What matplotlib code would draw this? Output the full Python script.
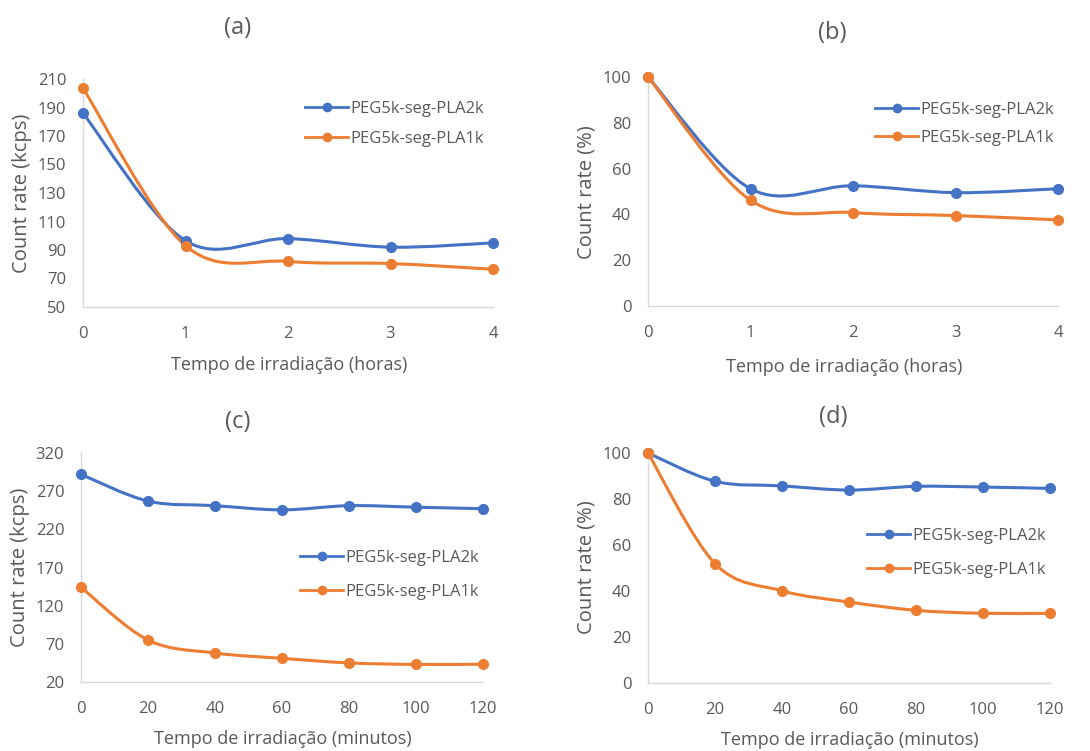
import matplotlib
matplotlib.use('Agg')
import matplotlib.pyplot as plt
from matplotlib.path import Path
from matplotlib.patches import PathPatch
from matplotlib.lines import Line2D
import numpy as np

plt.rcParams['font.family'] = ['Open Sans', 'DejaVu Sans']

# Dados
hours = [0, 1, 2, 3, 4]
minutes = [0, 20, 40, 60, 80, 100, 120]

a_pla2k = [186, 96.5, 98, 92, 95]
a_pla1k = [203.5, 93, 82, 80.5, 76.5]
b_pla2k = [100, 51.2, 52.5, 49.5, 51.2]
b_pla1k = [100, 46.2, 40.8, 39.5, 37.6]
c_pla2k = [292, 257, 251, 245.5, 251, 249, 247]
c_pla1k = [144, 75, 58, 51, 45, 43, 43.3]
d_pla2k = [100, 87.7, 85.7, 83.9, 85.5, 85.2, 84.6]
d_pla1k = [100, 51.9, 40.1, 35.2, 31.6, 30.3, 30.3]

series_labels = ['PEG5k-seg-PLA2k', 'PEG5k-seg-PLA1k']
blue = '#4472C4'
orange = '#ED7D31'
text_col = '#595959'
axis_col = '#D9D9D9'

W, H = 1090, 751


def smooth_path(x, y):
    # curva suavizada tipo Excel (bezier com tensao 1/6)
    pts = np.column_stack([x, y]).astype(float)
    n = len(pts)
    verts = [pts[0]]
    codes = [Path.MOVETO]
    for i in range(n - 1):
        p0 = pts[max(i - 1, 0)]
        p1 = pts[i]
        p2 = pts[i + 1]
        p3 = pts[min(i + 2, n - 1)]
        verts += [p1 + (p2 - p0) / 6, p2 - (p3 - p1) / 6, p2]
        codes += [Path.CURVE4] * 3
    return Path(verts, codes)


def fx(px):
    return px / W


def fy(py):
    return 1 - py / H


panels = [
    dict(rect=(83, 79, 493, 307), x=hours, y1=a_pla2k, y2=a_pla1k,
         yticks=np.arange(50, 211, 20), ylabel='Count rate (kcps)',
         xlabel='Tempo de irradiação (horas)', title='(a)',
         title_pos=(238, 28), xlabel_pos=(289, 365), ylabel_pos=(22, 193),
         leg_pos=(305, 124), leg_space=0.8),
    dict(rect=(648, 77, 1058, 306), x=hours, y1=b_pla2k, y2=b_pla1k,
         yticks=np.arange(0, 101, 20), ylabel='Count rate (%)',
         xlabel='Tempo de irradiação (horas)', title='(b)',
         title_pos=(832, 33), xlabel_pos=(844, 367), ylabel_pos=(587, 192),
         leg_pos=(875, 124), leg_space=0.7),
    dict(rect=(81, 453, 483, 682), x=minutes, y1=c_pla2k, y2=c_pla1k,
         yticks=np.arange(20, 321, 50), ylabel='Count rate (kcps)',
         xlabel='Tempo de irradiação (minutos)', title='(c)',
         title_pos=(238, 422), xlabel_pos=(283, 739), ylabel_pos=(20, 567),
         leg_pos=(300, 575), leg_space=1.05),
    dict(rect=(648, 453, 1050, 683), x=minutes, y1=d_pla2k, y2=d_pla1k,
         yticks=np.arange(0, 101, 20), ylabel='Count rate (%)',
         xlabel='Tempo de irradiação (minutos)', title='(d)',
         title_pos=(833, 417), xlabel_pos=(850, 740), ylabel_pos=(587, 567),
         leg_pos=(867, 553), leg_space=1.05),
]

fig = plt.figure(figsize=(W / 100, H / 100), dpi=100)

for p in panels:
    l, t, r, b = p['rect']
    ax = fig.add_axes([fx(l), fy(b), (r - l) / W, (b - t) / H])
    x = p['x']
    for y, col in [(p['y1'], blue), (p['y2'], orange)]:
        ax.add_patch(PathPatch(smooth_path(x, y), fill=False, edgecolor=col,
                               lw=2.2, capstyle='round', clip_on=False, zorder=2))
        ax.plot(x, y, 'o', color=col, ms=7, clip_on=False, zorder=3)

    ax.set_xlim(x[0], x[-1])
    ax.set_ylim(p['yticks'][0], p['yticks'][-1])
    ax.set_xticks(x)
    ax.set_yticks(p['yticks'])

    for s in ['top', 'right']:
        ax.spines[s].set_visible(False)
    for s in ['left', 'bottom']:
        ax.spines[s].set_color(axis_col)
        ax.spines[s].set_linewidth(1.0)
    ax.tick_params(length=0, labelsize=12, labelcolor=text_col)
    ax.tick_params(axis='y', pad=12)
    ax.tick_params(axis='x', pad=14)

    ax.set_xlabel(p['xlabel'], fontsize=13, color=text_col)
    ax.xaxis.set_label_coords(fx(p['xlabel_pos'][0]), fy(p['xlabel_pos'][1]),
                              transform=fig.transFigure)
    ax.xaxis.label.set_va('center')
    ax.set_ylabel(p['ylabel'], fontsize=14.5, color=text_col)
    ax.yaxis.set_label_coords(fx(p['ylabel_pos'][0]), fy(p['ylabel_pos'][1]),
                              transform=fig.transFigure)
    ax.yaxis.label.set_va('center')

    fig.text(fx(p['title_pos'][0]), fy(p['title_pos'][1]), p['title'],
             fontsize=17, color=text_col, ha='center', va='center')

    handles = [Line2D([], [], color=blue, marker='o', lw=2, ms=6),
               Line2D([], [], color=orange, marker='o', lw=2, ms=6)]
    ax.legend(handles, series_labels, loc='center left',
              bbox_to_anchor=(fx(p['leg_pos'][0]), fy(p['leg_pos'][1])),
              bbox_transform=fig.transFigure, frameon=False, fontsize=12,
              handlelength=2.6, handletextpad=0.15, labelspacing=p['leg_space'],
              borderpad=0, borderaxespad=0, labelcolor=text_col)

fig.savefig('out.png', dpi=100)
